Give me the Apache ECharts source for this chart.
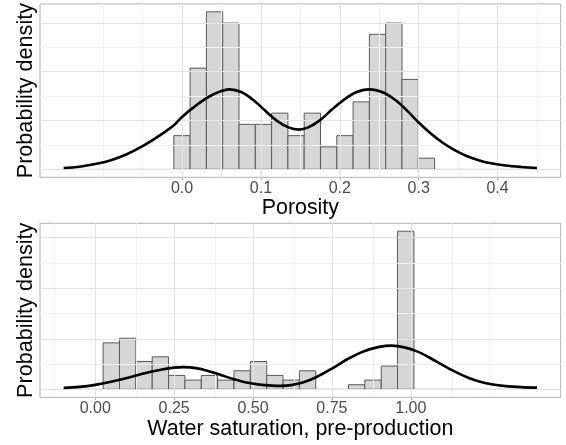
<!DOCTYPE html>
<html>
<head>
<meta charset="utf-8">
<script src="https://cdn.jsdelivr.net/npm/echarts@6/dist/echarts.min.js"></script>
<style>
  html, body { margin: 0; padding: 0; background: #ffffff; }
  #chart { width: 566px; height: 445px; }
</style>
</head>
<body>
<div id="chart"></div>
<script>
// ---- Porosity: histogram counts per bin and the fitted density curve ----
const porosityBinStart = -0.0104;
const porosityBinWidth = 0.02066;
const porosityCounts = [3, 9, 14, 13, 4, 4, 5, 3, 5, 2, 3, 6, 12, 13, 8, 1];
const porosityCurve = [
  [-0.15, 0.06], [-0.13, 0.11], [-0.11, 0.22], [-0.09, 0.38], [-0.07, 0.62],
  [-0.05, 0.95], [-0.03, 1.35], [-0.01, 1.82], [0.0, 2.15], [0.015, 2.55],
  [0.03, 2.90], [0.045, 3.15], [0.06, 3.28], [0.075, 3.17], [0.09, 2.85],
  [0.105, 2.42], [0.12, 2.00], [0.135, 1.72], [0.148, 1.63], [0.16, 1.72],
  [0.175, 2.02], [0.19, 2.45], [0.205, 2.85], [0.22, 3.15], [0.237, 3.28],
  [0.255, 3.15], [0.27, 2.85], [0.285, 2.42], [0.30, 1.92], [0.315, 1.48],
  [0.33, 1.10], [0.345, 0.80], [0.36, 0.56], [0.375, 0.39], [0.39, 0.26],
  [0.41, 0.16], [0.43, 0.10], [0.45, 0.06]
];
const porosityTicks = [0, 0.1, 0.2, 0.3, 0.4];
const porosityGridMajor = [0, 0.1, 0.2, 0.3, 0.4];
const porosityGridMinor = [-0.1, -0.05, 0.05, 0.15, 0.25, 0.35, 0.45];
const porosityRange = [-0.18, 0.48];
const porosityDensityRange = [-0.323, 6.777];

// ---- Water saturation (pre-production) ----
const satBinStart = 0.0251;
const satBinWidth = 0.05183;
const satCounts = [10, 11, 6, 7, 3, 2, 3, 2, 4, 6, 3, 2, 4, 0, 0, 1, 2, 5, 34];
const satCurve = [
  [-0.1, 0.06], [-0.05, 0.10], [0.0, 0.18], [0.05, 0.30], [0.1, 0.45],
  [0.15, 0.62], [0.2, 0.76], [0.25, 0.86], [0.28, 0.88], [0.32, 0.84],
  [0.36, 0.72], [0.4, 0.56], [0.44, 0.40], [0.48, 0.27], [0.52, 0.19],
  [0.56, 0.15], [0.59, 0.14], [0.62, 0.17], [0.66, 0.28], [0.70, 0.48],
  [0.75, 0.82], [0.80, 1.20], [0.85, 1.50], [0.90, 1.68], [0.94, 1.73],
  [0.98, 1.66], [1.02, 1.50], [1.06, 1.25], [1.10, 0.97], [1.14, 0.70],
  [1.18, 0.47], [1.22, 0.30], [1.26, 0.19], [1.30, 0.13], [1.35, 0.09],
  [1.4, 0.07]
];
const satTicks = [0, 0.25, 0.5, 0.75, 1.0];
const satGridMajor = [0, 0.25, 0.5, 0.75, 1.0];
const satGridMinor = [-0.125, 0.125, 0.375, 0.625, 0.875, 1.125, 1.25];
const satRange = [-0.175, 1.475];
const satDensityRange = [-0.312, 6.56];

const densityGridMajor = [0, 2, 4, 6];
const densityGridMinor = [1, 3, 5];

// ---- layout ----
const W = 566;
const FONT = "'Liberation Sans', Arial, Helvetica, sans-serif";
const panelLeft = 40, panelRight = 5.3, panelHeight = 174;
const panelWidth = W - panelLeft - panelRight;
const panelTops = [3.3, 223.3];
const titleGaps = [20, 21.5];

function histData(start, width, counts) {
  const n = counts.reduce((a, b) => a + b, 0);
  const out = [];
  counts.forEach((c, i) => {
    if (c > 0) out.push([start + i * width, start + (i + 1) * width, c / (n * width)]);
  });
  return out;
}

function renderBar(params, api) {
  const p0 = api.coord([api.value(0), api.value(2)]);
  const p1 = api.coord([api.value(1), 0]);
  return {
    type: 'rect',
    shape: { x: p0[0], y: p0[1], width: p1[0] - p0[0], height: p1[1] - p0[1] },
    style: { fill: '#d6d6d6', stroke: '#5a5a5a', lineWidth: 1 }
  };
}

function gridLineItems(xMajor, xMinor, yMajor, yMinor) {
  const major = { color: '#e5e5e5', width: 1, type: 'solid' };
  const minor = { color: '#f1f1f1', width: 1, type: 'solid' };
  return [].concat(
    xMinor.map(v => ({ xAxis: v, lineStyle: minor })),
    yMinor.map(v => ({ yAxis: v, lineStyle: minor })),
    xMajor.map(v => ({ xAxis: v, lineStyle: major })),
    yMajor.map(v => ({ yAxis: v, lineStyle: major }))
  );
}

// overlay grid that carries only the tick marks and labels of the breaks
function tickGrid(top, range, ticks) {
  const span = range[1] - range[0];
  return {
    left: panelLeft + (ticks[0] - range[0]) / span * panelWidth,
    width: (ticks[ticks.length - 1] - ticks[0]) / span * panelWidth,
    top: top, height: panelHeight, show: false
  };
}

const panels = [
  { range: porosityRange, yRange: porosityDensityRange, ticks: porosityTicks,
    digits: 1, title: 'Porosity',
    bars: histData(porosityBinStart, porosityBinWidth, porosityCounts),
    curve: porosityCurve, gMaj: porosityGridMajor, gMin: porosityGridMinor },
  { range: satRange, yRange: satDensityRange, ticks: satTicks,
    digits: 2, title: 'Water saturation, pre-production',
    bars: histData(satBinStart, satBinWidth, satCounts),
    curve: satCurve, gMaj: satGridMajor, gMin: satGridMinor }
];

const grid = [], xAxis = [], yAxis = [], series = [];
panels.forEach((p, i) => {
  const top = panelTops[i];
  grid.push({ left: panelLeft, width: panelWidth, top: top, height: panelHeight,
              show: true, borderColor: '#b3b3b3', borderWidth: 1, backgroundColor: '#ffffff' });
  xAxis.push({
    type: 'value', gridIndex: i, min: p.range[0], max: p.range[1],
    axisLine: { show: false }, axisTick: { show: false }, axisLabel: { show: false },
    splitLine: { show: false },
    name: p.title, nameLocation: 'middle', nameGap: titleGaps[i],
    nameTextStyle: { fontFamily: FONT, fontSize: 21.4, color: '#000000', verticalAlign: 'top' }
  });
  yAxis.push({
    type: 'value', gridIndex: i, min: p.yRange[0], max: p.yRange[1],
    axisLine: { show: false }, axisTick: { show: false }, axisLabel: { show: false },
    splitLine: { show: false },
    name: 'Probability density', nameLocation: 'middle', nameGap: 3, nameRotate: 90,
    nameTextStyle: { fontFamily: FONT, fontSize: 21.6, color: '#000000' }
  });
  // gridlines
  series.push({
    type: 'line', xAxisIndex: i, yAxisIndex: i, data: [], z: 1, silent: true,
    markLine: { silent: true, symbol: ['none', 'none'], label: { show: false },
                animation: false, data: gridLineItems(p.gMaj, p.gMin, densityGridMajor, densityGridMinor) }
  });
  // histogram bars
  series.push({ type: 'custom', xAxisIndex: i, yAxisIndex: i, z: 3,
                renderItem: renderBar, data: p.bars, encode: { x: [0, 1], y: 2 } });
  // baseline of the density polygon
  const c = p.curve;
  series.push({ type: 'line', xAxisIndex: i, yAxisIndex: i, z: 4, symbol: 'none',
                data: [[c[0][0], 0], [c[c.length - 1][0], 0]],
                lineStyle: { color: '#3a3a3a', width: 1 } });
  // density curve
  series.push({ type: 'line', xAxisIndex: i, yAxisIndex: i, z: 5, symbol: 'none',
                smooth: 0.35, data: p.curve,
                lineStyle: { color: '#000000', width: 2.6 } });
});

// tick label grids
panels.forEach((p, i) => {
  const gi = grid.length;
  grid.push(tickGrid(panelTops[i], p.range, p.ticks));
  xAxis.push({
    type: 'value', gridIndex: gi, min: p.ticks[0], max: p.ticks[p.ticks.length - 1],
    interval: p.ticks[1] - p.ticks[0],
    axisLine: { show: false },
    axisTick: { show: true, length: 3, lineStyle: { color: '#b3b3b3', width: 1 } },
    axisLabel: { show: true, margin: 3, fontFamily: FONT, fontSize: 16, color: '#4d4d4d',
                 formatter: v => v.toFixed(p.digits) },
    splitLine: { show: false }
  });
  yAxis.push({ type: 'value', gridIndex: gi, min: 0, max: 1, show: false });
});

const chart = echarts.init(document.getElementById('chart'), null, { renderer: 'canvas' });
chart.setOption({
  animation: false,
  backgroundColor: '#ffffff',
  textStyle: { fontFamily: FONT },
  grid: grid, xAxis: xAxis, yAxis: yAxis, series: series
});
</script>
</body>
</html>
